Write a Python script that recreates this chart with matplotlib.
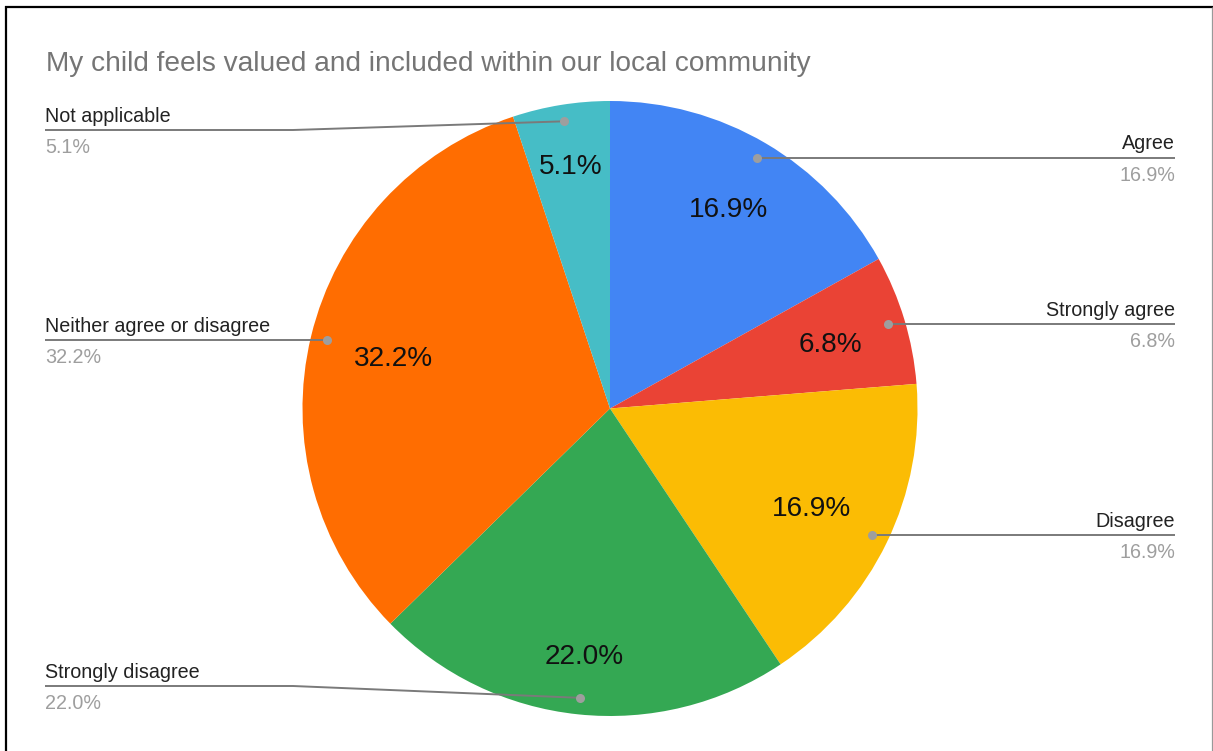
import numpy as np
import matplotlib
matplotlib.use("Agg")
import matplotlib.pyplot as plt

plt.rcParams["font.family"] = ["Liberation Sans", "DejaVu Sans"]

title = "My child feels valued and included within our local community"
categories = ["Agree", "Strongly agree", "Disagree", "Strongly disagree",
              "Neither agree or disagree", "Not applicable"]
shares = [16.9, 6.8, 16.9, 22.0, 32.2, 5.1]
colors = ["#4285F4", "#EA4335", "#FBBC04", "#34A853", "#FF6D01", "#46BDC6"]

# canvas in pixel units, y measured upward
W, H = 1213, 751
fig = plt.figure(figsize=(W / 100, H / 100), dpi=100)
ax = fig.add_axes([0, 0, 1, 1])

cx, cy = 610.0, H - 408.5
R = 307.5

wedges, _ = ax.pie(shares, colors=colors, startangle=90, counterclock=False,
                   radius=R, center=(cx, cy), wedgeprops=dict(linewidth=0))
ax.set_xlim(0, W)
ax.set_ylim(0, H)
ax.set_aspect("equal")
ax.axis("off")

renderer = fig.canvas.get_renderer()

# leader-line layout
dot_frac = 0.946
right_x = 1175
left_x = 45
knee_x = 293
row_override = {"Not applicable": H - 130, "Strongly disagree": H - 686}
line_col = "#7a7a7a"
name_col = "#222222"
pct_col = "#9e9e9e"
label_fs = 14.2
inner_fs = 20.2
inner_reach = 264  # farthest corner of the inside label box

for w, name, val in zip(wedges, categories, shares):
    mid = np.deg2rad((w.theta1 + w.theta2) / 2)
    ux, uy = np.cos(mid), np.sin(mid)

    # value label inside the slice
    t = ax.text(0, 0, f"{val:.1f}%", fontsize=inner_fs, color="#111111",
                ha="center", va="baseline")
    bb = t.get_window_extent(renderer)
    bw = bb.width
    bh = inner_fs / 72 * 100 * 0.716
    b = abs(ux) * bw / 2 + abs(uy) * bh / 2
    c = (bw ** 2 + bh ** 2) / 4 - inner_reach ** 2
    d = -b + np.sqrt(b * b - c)
    tx, ty = cx + d * ux, cy + d * uy
    t.set_position((tx, ty - bh / 2))

    # leader dot and line
    dx, dy = cx + dot_frac * R * ux, cy + dot_frac * R * uy
    ax.plot([dx], [dy], "o", color="#9e9e9e", markersize=6.5,
            markeredgewidth=0, zorder=5)
    if ux > 0:
        ly = dy
        ax.plot([dx, right_x], [ly, ly], color=line_col, lw=1.4,
                solid_capstyle="butt", zorder=4)
        tx_lab, ha = right_x, "right"
    else:
        ly = row_override.get(name, dy)
        if ly != dy:
            ax.plot([left_x, knee_x, dx], [ly, ly, dy], color=line_col,
                    lw=1.4, solid_capstyle="butt", zorder=4)
        else:
            ax.plot([left_x, dx], [ly, ly], color=line_col, lw=1.4,
                    solid_capstyle="butt", zorder=4)
        tx_lab, ha = left_x, "left"
    ax.text(tx_lab, ly + 8.5, name, fontsize=label_fs, color=name_col,
            ha=ha, va="baseline")
    ax.text(tx_lab, ly - 23, f"{val:.1f}%", fontsize=label_fs,
            color=pct_col, ha=ha, va="baseline")

ax.text(46, H - 71, title, fontsize=20.15, color="#757575",
        ha="left", va="baseline")

# frame around the chart
ax.plot([5, W], [H - 6.5, H - 6.5], color="black", lw=1.6,
        solid_capstyle="butt", clip_on=False)
ax.plot([6, 6], [H - 5.5, 0], color="black", lw=1.6,
        solid_capstyle="butt", clip_on=False)
ax.plot([1212, 1212], [H - 7, 0], color="#999999", lw=0.9,
        solid_capstyle="butt", clip_on=False)

fig.savefig("out.png", dpi=100, facecolor="white")
